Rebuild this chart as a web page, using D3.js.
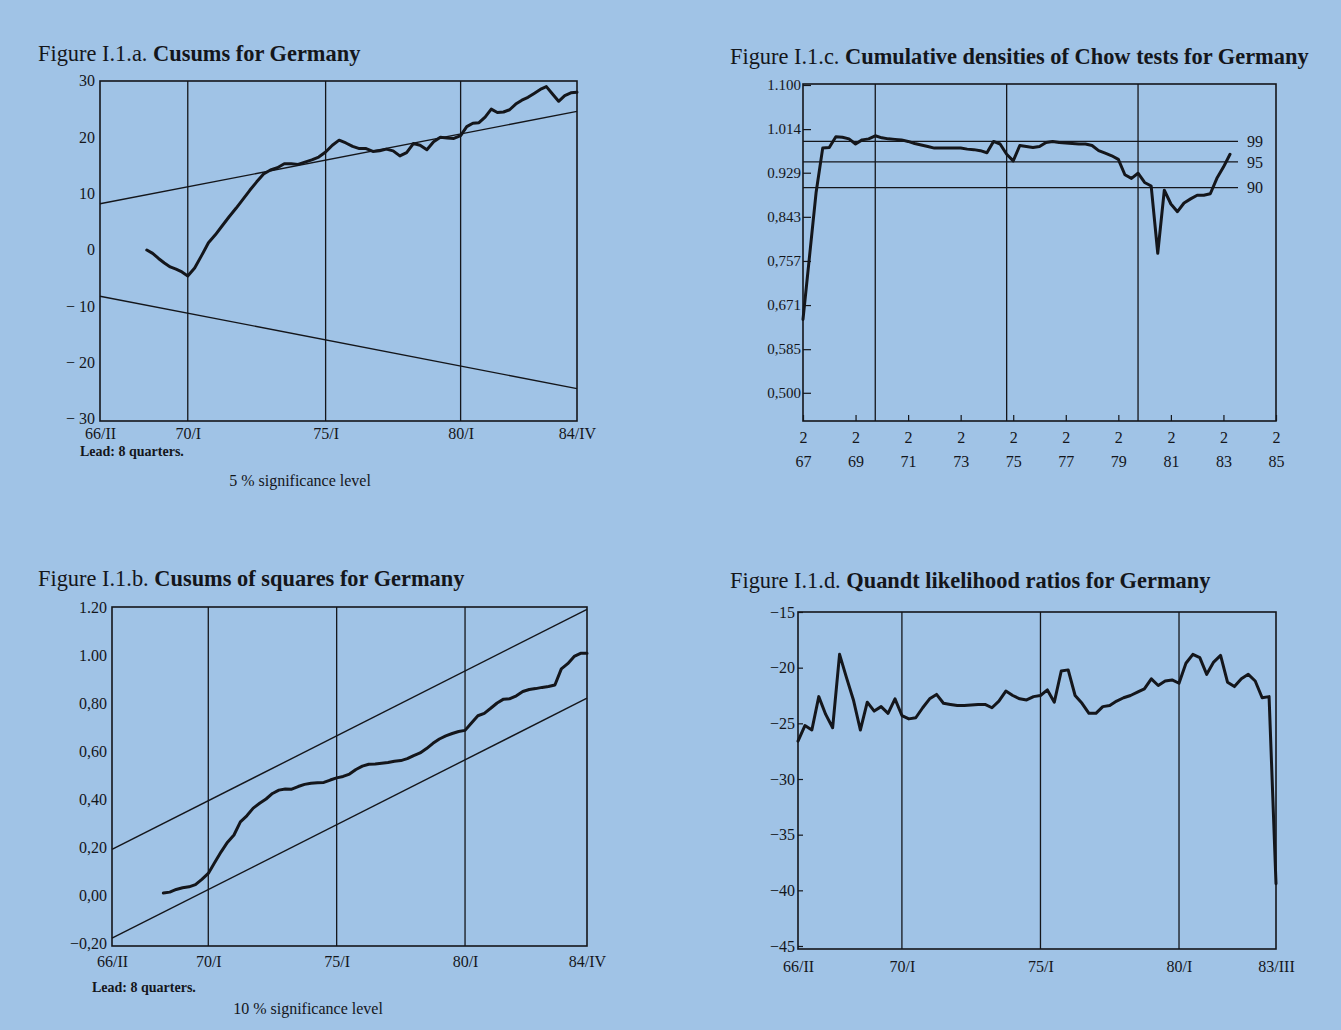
<!DOCTYPE html>
<html><head><meta charset="utf-8">
<script src="https://cdn.jsdelivr.net/npm/d3@7"></script>
<style>
html,body{margin:0;padding:0;background:#a0c3e6;}
svg{display:block;}
</style></head><body>
<svg id="c" width="1341" height="1030"></svg>
<script>
// ---------- DATA ----------
// Quarter indices: panels a, b, d count quarters from 66/II; panel c from 67/II.
const cusumTickQuarters = [0, 15, 35, 55, 74];
const cusumTickLabels = ["66/II", "70/I", "75/I", "80/I", "84/IV"];
const cusumStart = 8; // lead: 8 quarters
const cusumValues = [
  0.0, -0.6, -1.5, -2.3, -3.0, -3.4, -3.9, -4.6, -3.2, -1.0,
  1.3, 2.7, 4.3, 5.9, 7.4, 9.0, 10.6, 12.1, 13.5, 14.2,
  14.6, 15.3, 15.3, 15.2, 15.6, 16.0, 16.5, 17.4, 18.6, 19.5,
  19.0, 18.4, 18.0, 18.0, 17.5, 17.6, 17.9, 17.6, 16.7, 17.3,
  18.9, 18.6, 17.8, 19.2, 20.0, 19.9, 19.8, 20.3, 21.9, 22.5,
  22.6, 23.6, 25.0, 24.4, 24.5, 24.9, 25.9, 26.6, 27.1, 27.8,
  28.5, 29.0, 27.7, 26.4, 27.4, 27.9, 28.0
];
const cusumBound = [8.2, 24.6];           // 5% lines at first and last quarter (±)
const cusumYTicks = [30, 20, 10, 0, -10, -20, -30];
const cusumYLabels = ["30", "20", "10", "0", "\u2212 10", "\u2212 20", "\u2212 30"];

const cusumSqValues = [
  0.008, 0.012, 0.023, 0.030, 0.034, 0.043, 0.065, 0.090, 0.135, 0.180,
  0.220, 0.250, 0.305, 0.330, 0.362, 0.382, 0.400, 0.423, 0.437, 0.442,
  0.441, 0.452, 0.461, 0.466, 0.468, 0.469, 0.479, 0.488, 0.494, 0.504,
  0.523, 0.537, 0.545, 0.546, 0.549, 0.552, 0.557, 0.560, 0.568, 0.581,
  0.592, 0.610, 0.632, 0.650, 0.663, 0.673, 0.681, 0.686, 0.717, 0.747,
  0.757, 0.778, 0.800, 0.816, 0.818, 0.830, 0.848, 0.856, 0.860, 0.865,
  0.869, 0.875, 0.942, 0.964, 0.994, 1.007, 1.007
];
const cusumSqUpper = [0.19, 1.19];
const cusumSqLower = [-0.18, 0.82];
const cusumSqYTicks = [1.2, 1.0, 0.8, 0.6, 0.4, 0.2, 0.0, -0.2];
const cusumSqYLabels = ["1.20", "1.00", "0,80", "0,60", "0,40", "0,20", "0,00", "\u22120,20"];

const chowTickQuarters = [0, 8, 16, 24, 32, 40, 48, 56, 64, 72];
const chowTickYears = ["67", "69", "71", "73", "75", "77", "79", "81", "83", "85"];
const chowTickQuarter = "2";
const chowGridQuarters = [11, 31, 51]; // 70/I, 75/I, 80/I
const chowValues = [
  0.643, 0.767, 0.891, 0.977, 0.978, 0.999, 0.998, 0.995, 0.985, 0.993,
  0.995, 1.001, 0.997, 0.995, 0.994, 0.993, 0.990, 0.986, 0.983, 0.980,
  0.977, 0.977, 0.977, 0.977, 0.977, 0.975, 0.974, 0.972, 0.968, 0.990,
  0.985, 0.965, 0.952, 0.982, 0.980, 0.978, 0.980, 0.988, 0.990, 0.988,
  0.987, 0.986, 0.985, 0.985, 0.982, 0.972, 0.967, 0.962, 0.955, 0.925,
  0.918, 0.928, 0.910, 0.903, 0.772, 0.895, 0.868, 0.853, 0.870, 0.878,
  0.885, 0.885, 0.888, 0.918, 0.940, 0.965
];
const chowLevels = [0.99, 0.95, 0.90];
const chowLevelLabels = ["99", "95", "90"];
const chowYTicks = [1.100, 1.014, 0.929, 0.843, 0.757, 0.671, 0.585, 0.500];
const chowYLabels = ["1.100", "1.014", "0.929", "0,843", "0,757", "0,671", "0,585", "0,500"];

const quandtTickQuarters = [0, 15, 35, 55, 69];
const quandtTickLabels = ["66/II", "70/I", "75/I", "80/I", "83/III"];
const quandtValues = [
  -26.6, -25.2, -25.6, -22.6, -24.2, -25.4, -18.8, -20.9, -22.9, -25.6,
  -23.1, -23.9, -23.5, -24.1, -22.8, -24.3, -24.6, -24.5, -23.6, -22.8,
  -22.4, -23.2, -23.3, -23.4, -23.4, -23.35, -23.3, -23.3, -23.6, -23.0,
  -22.1, -22.5, -22.8, -22.9, -22.6, -22.5, -22.0, -23.1, -20.3, -20.2,
  -22.5, -23.2, -24.1, -24.1, -23.5, -23.4, -23.0, -22.7, -22.5, -22.2,
  -21.9, -21.0, -21.6, -21.2, -21.1, -21.4, -19.6, -18.8, -19.1, -20.6,
  -19.5, -18.9, -21.3, -21.7, -21.0, -20.6, -21.2, -22.7, -22.6, -39.4
];
const quandtYTicks = [-15, -20, -25, -30, -35, -40, -45];
const quandtYLabels = ["\u221215", "\u221220", "\u221225", "\u221230", "\u221235", "\u221240", "\u221245"];

// ---------- DRAWING ----------
const BG = "#a0c3e6";
const INK = "#14161b";
const FONT = "'Liberation Serif','Times New Roman',serif";
const svg = d3.select("#c");
svg.append("rect").attr("width", 1341).attr("height", 1030).attr("fill", BG);

function title(x, y, prefix, bold) {
  const t = svg.append("text").attr("x", x).attr("y", y)
    .attr("font-family", FONT).attr("font-size", 22.4).attr("fill", INK);
  t.append("tspan").text(prefix);
  t.append("tspan").attr("font-weight", "bold").text(bold);
}
function note(x, y, txt, size, anchor, weight) {
  svg.append("text").attr("x", x).attr("y", y).attr("font-family", FONT)
    .attr("font-size", size).attr("fill", INK).attr("font-weight", weight || "normal")
    .attr("text-anchor", anchor || "start").text(txt);
}
function styleAxis(g, size) {
  g.select(".domain").remove();
  g.selectAll("text").attr("font-family", FONT).attr("font-size", size).attr("fill", INK);
  g.selectAll("line").attr("stroke", INK).attr("stroke-width", 1.2);
}
function frame(g, L, T, R, B) {
  g.append("rect").attr("x", L).attr("y", T).attr("width", R - L).attr("height", B - T)
    .attr("fill", "none").attr("stroke", INK).attr("stroke-width", 1.6);
}
function vlines(g, xs, T, B) {
  g.selectAll(null).data(xs).join("line")
    .attr("x1", d => d).attr("x2", d => d).attr("y1", T).attr("y2", B)
    .attr("stroke", INK).attr("stroke-width", 1.3);
}
function seg(g, x1, y1, x2, y2, w) {
  g.append("line").attr("x1", x1).attr("y1", y1).attr("x2", x2).attr("y2", y2)
    .attr("stroke", INK).attr("stroke-width", w || 1.4);
}
function dataLine(g, pts, x, y) {
  g.append("path").datum(pts)
    .attr("d", d3.line().x(d => x(d[0])).y(d => y(d[1])))
    .attr("fill", "none").attr("stroke", INK).attr("stroke-width", 3)
    .attr("stroke-linejoin", "round").attr("stroke-linecap", "round");
}

// ---- Panel a ----
(function () {
  const L = 100, R = 577, T = 81, B = 421;
  const g = svg.append("g");
  const fr = [0, 0.184, 0.473, 0.756, 1];
  const x = d3.scaleLinear().domain(cusumTickQuarters).range(fr.map(f => L + f * (R - L)));
  const y = d3.scaleLinear().domain([-30, 30]).range([B - 2, T]);
  title(38, 61, "Figure I.1.a. ", "Cusums for Germany");
  vlines(g, cusumTickQuarters.slice(1, 4).map(x), T, B);
  frame(g, L, T, R, B);
  seg(g, x(0), y(cusumBound[0]), x(74), y(cusumBound[1]));
  seg(g, x(0), y(-cusumBound[0]), x(74), y(-cusumBound[1]));
  dataLine(g, cusumValues.map((v, i) => [cusumStart + i, v]), x, y);
  const ay = g.append("g").attr("transform", `translate(${L},0)`)
    .call(d3.axisLeft(y).tickValues(cusumYTicks).tickFormat((d, i) => cusumYLabels[i]).tickSize(0).tickPadding(5));
  styleAxis(ay, 16);
  ay.selectAll("text").attr("dy", "0.3em");
  const ax = g.append("g").attr("transform", `translate(0,${B})`)
    .call(d3.axisBottom(x).tickValues(cusumTickQuarters).tickFormat((d, i) => cusumTickLabels[i]).tickSize(0).tickPadding(7));
  styleAxis(ax, 16);
  note(80, 456, "Lead: 8 quarters.", 14, "start", "bold");
  note(300, 486, "5 % significance level", 16, "middle");
})();

// ---- Panel b ----
(function () {
  const L = 112, R = 587, T = 607, B = 946;
  const g = svg.append("g");
  const x = d3.scaleLinear().domain([0, 74]).range([L, R]);
  const y = d3.scaleLinear().domain([-0.2, 1.2]).range([B - 3, T]);
  title(38, 586, "Figure I.1.b. ", "Cusums of squares for Germany");
  vlines(g, cusumTickQuarters.slice(1, 4).map(x), T, B);
  frame(g, L, T, R, B);
  seg(g, x(0), y(cusumSqUpper[0]), x(74), y(cusumSqUpper[1]));
  seg(g, x(0), y(cusumSqLower[0]), x(74), y(cusumSqLower[1]));
  dataLine(g, cusumSqValues.map((v, i) => [cusumStart + i, v]), x, y);
  const ay = g.append("g").attr("transform", `translate(${L},0)`)
    .call(d3.axisLeft(y).tickValues(cusumSqYTicks).tickFormat((d, i) => cusumSqYLabels[i]).tickSize(0).tickPadding(5));
  styleAxis(ay, 16);
  const ax = g.append("g").attr("transform", `translate(0,${B})`)
    .call(d3.axisBottom(x).tickValues(cusumTickQuarters).tickFormat((d, i) => cusumTickLabels[i]).tickSize(0).tickPadding(10));
  styleAxis(ax, 16);
  note(92, 992, "Lead: 8 quarters.", 14, "start", "bold");
  note(308, 1014, "10 % significance level", 16, "middle");
})();

// ---- Panel c ----
(function () {
  const L = 803, R = 1276, T = 84, B = 421;
  const g = svg.append("g");
  const x = d3.scaleLinear().domain([0, 72]).range([L, R]);
  const y = d3.scaleLinear().domain([0.445, 1.1]).range([B, T + 1]);
  title(730, 64, "Figure I.1.c. ", "Cumulative densities of Chow tests for Germany");
  vlines(g, chowGridQuarters.map(x), T, B);
  frame(g, L, T, R, B);
  chowLevels.forEach(v => seg(g, L, y(v), R - 38, y(v), 1.3));
  g.selectAll(null).data(chowLevels).join("text")
    .attr("x", R - 29).attr("y", d => y(d)).attr("dy", "0.35em")
    .attr("font-family", FONT).attr("font-size", 16).attr("fill", INK)
    .text((d, i) => chowLevelLabels[i]);
  dataLine(g, chowValues.map((v, i) => [i, v]), x, y);
  const ay = g.append("g").attr("transform", `translate(${L},0)`)
    .call(d3.axisLeft(y).tickValues(chowYTicks).tickFormat((d, i) => chowYLabels[i]).tickSizeInner(-8).tickSizeOuter(0).tickPadding(2));
  styleAxis(ay, 15);
  const ax = g.append("g").attr("transform", `translate(0,${B})`)
    .call(d3.axisBottom(x).tickValues(chowTickQuarters).tickFormat(() => chowTickQuarter).tickSizeInner(-6).tickSizeOuter(0).tickPadding(11));
  styleAxis(ax, 16);
  const ax2 = g.append("g").attr("transform", `translate(0,${B})`)
    .call(d3.axisBottom(x).tickValues(chowTickQuarters).tickFormat((d, i) => chowTickYears[i]).tickSize(0).tickPadding(35));
  styleAxis(ax2, 16);
})();

// ---- Panel d ----
(function () {
  const L = 798, R = 1276, T = 612, B = 949;
  const g = svg.append("g");
  const x = d3.scaleLinear().domain([0, 69]).range([L, R]);
  const y = d3.scaleLinear().domain([-45, -15]).range([B - 3, T]);
  title(730, 588, "Figure I.1.d. ", "Quandt likelihood ratios for Germany");
  vlines(g, quandtTickQuarters.slice(1, 4).map(x), T, B);
  frame(g, L, T, R, B);
  dataLine(g, quandtValues.map((v, i) => [i, v]), x, y);
  const ay = g.append("g").attr("transform", `translate(${L},0)`)
    .call(d3.axisLeft(y).tickValues(quandtYTicks).tickFormat((d, i) => quandtYLabels[i]).tickSizeInner(-5).tickSizeOuter(0).tickPadding(3));
  styleAxis(ay, 16);
  const ax = g.append("g").attr("transform", `translate(0,${B})`)
    .call(d3.axisBottom(x).tickValues(quandtTickQuarters).tickFormat((d, i) => quandtTickLabels[i]).tickSize(0).tickPadding(12));
  styleAxis(ax, 16);
})();
</script>
</body></html>
